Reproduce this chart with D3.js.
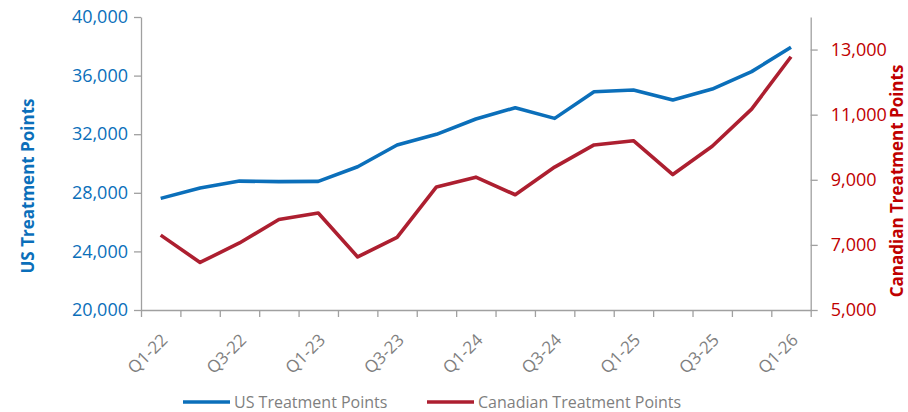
<!DOCTYPE html>
<html>
<head>
<meta charset="utf-8">
<script src="https://cdn.jsdelivr.net/npm/d3@7"></script>
<style>
  body { margin: 0; background: #fff; }
  svg { display: block; font-family: "Open Sans", sans-serif; }
</style>
</head>
<body>
<div id="chart"></div>
<script>
var quarters = ['Q1-22', 'Q2-22', 'Q3-22', 'Q4-22', 'Q1-23', 'Q2-23', 'Q3-23', 'Q4-23',
  'Q1-24', 'Q2-24', 'Q3-24', 'Q4-24', 'Q1-25', 'Q2-25', 'Q3-25', 'Q4-25', 'Q1-26'];
var usPoints = [27620, 28330, 28800, 28760, 28780, 29780, 31260, 31990,
  33040, 33810, 33080, 34900, 35020, 34330, 35080, 36270, 37930];
var caPoints = [7300, 6460, 7060, 7780, 7980, 6630, 7230, 8780,
  9080, 8540, 9390, 10070, 10200, 9160, 10030, 11170, 12780];
var usTicks = [20000, 24000, 28000, 32000, 36000, 40000];
var caTicks = [5000, 7000, 9000, 11000, 13000];

var W = 908, H = 412;
// plot edges (don't call it "top", that's window.top)
var plotL = 141, plotR = 810.7, plotT = 17, plotB = 310;
var BLUE = '#0b6fba', RED = '#ad1f30', GREY = '#a0a0a0', TEXT_GREY = '#7f7f7f';
var FONT = '"Open Sans", sans-serif';
var fmt = d3.format(',');

var svg = d3.select('#chart').append('svg')
    .attr('width', W)
    .attr('height', H);

var x = d3.scaleBand().domain(quarters).range([plotL, plotR]);
var xEdge = d3.scaleLinear().domain([0, quarters.length]).range([plotL, plotR]);
var yUs = d3.scaleLinear().domain([20000, 40000]).range([plotB, plotT]);
var yCa = d3.scaleLinear().domain([5000, 14000]).range([plotB, plotT]);
var cx = d => x(d) + x.bandwidth() / 2;

// left axis
var gl = svg.append('g')
    .attr('transform', 'translate(' + plotL + ',0)')
    .call(d3.axisLeft(yUs).tickValues(usTicks).tickFormat(fmt).tickSize(7).tickPadding(6).tickSizeOuter(0));
gl.attr('font-family', FONT);
gl.selectAll('text').attr('fill', BLUE).style('font-size', '18px');

// right axis
var gr = svg.append('g')
    .attr('transform', 'translate(' + plotR + ',0)')
    .call(d3.axisRight(yCa).tickValues(caTicks).tickFormat(fmt).tickSize(7).tickPadding(13).tickSizeOuter(0));
gr.attr('font-family', FONT);
gr.selectAll('text').attr('fill', '#c00000').style('font-size', '18px');

// bottom axis, ticks between categories
var gb = svg.append('g')
    .attr('transform', 'translate(0,' + plotB + ')')
    .call(d3.axisBottom(xEdge).tickValues(d3.range(quarters.length + 1)).tickFormat('').tickSize(7).tickSizeOuter(0));

svg.selectAll('.domain, .tick line').attr('stroke', GREY).attr('stroke-width', 1.3);

// category labels, every other quarter
svg.append('g').selectAll('text')
    .data(quarters.filter((q, i) => i % 2 == 0))
  .enter().append('text')
    .attr('transform', d => 'translate(' + (cx(d) + 8) + ',' + (plotB + 31) + ') rotate(-45)')
    .attr('text-anchor', 'end')
    .attr('fill', TEXT_GREY)
    .style('font-size', '17px')
    .text(d => d);

// lines
var lineUs = d3.line().x((d, i) => cx(quarters[i])).y(d => yUs(d));
var lineCa = d3.line().x((d, i) => cx(quarters[i])).y(d => yCa(d));

svg.append('path').datum(caPoints)
    .attr('d', lineCa)
    .attr('fill', 'none').attr('stroke', RED).attr('stroke-width', 3.6)
    .attr('stroke-linejoin', 'round');
svg.append('path').datum(usPoints)
    .attr('d', lineUs)
    .attr('fill', 'none').attr('stroke', BLUE).attr('stroke-width', 3.6)
    .attr('stroke-linejoin', 'round');

// axis titles
svg.append('text')
    .attr('transform', 'translate(34,186) rotate(-90)')
    .attr('text-anchor', 'middle')
    .attr('fill', BLUE)
    .style('font-size', '17px').style('font-weight', 'bold')
    .text('US Treatment Points');
svg.append('text')
    .attr('transform', 'translate(903,181) rotate(-90)')
    .attr('text-anchor', 'middle')
    .attr('fill', '#c00000')
    .style('font-size', '17px').style('font-weight', 'bold')
    .text('Canadian Treatment Points');

// legend
var legend = [
  { name: 'US Treatment Points', color: BLUE, x: 183 },
  { name: 'Canadian Treatment Points', color: RED, x: 427 },
];
var lg = svg.append('g').selectAll('g').data(legend).enter().append('g')
    .attr('transform', d => 'translate(' + d.x + ',402)');
lg.append('line')
    .attr('x1', 0).attr('x2', 47)
    .attr('stroke', d => d.color).attr('stroke-width', 3.6);
lg.append('text')
    .attr('x', 51).attr('y', 6)
    .attr('fill', TEXT_GREY)
    .style('font-size', '16px')
    .text(d => d.name);
</script>
</body>
</html>
